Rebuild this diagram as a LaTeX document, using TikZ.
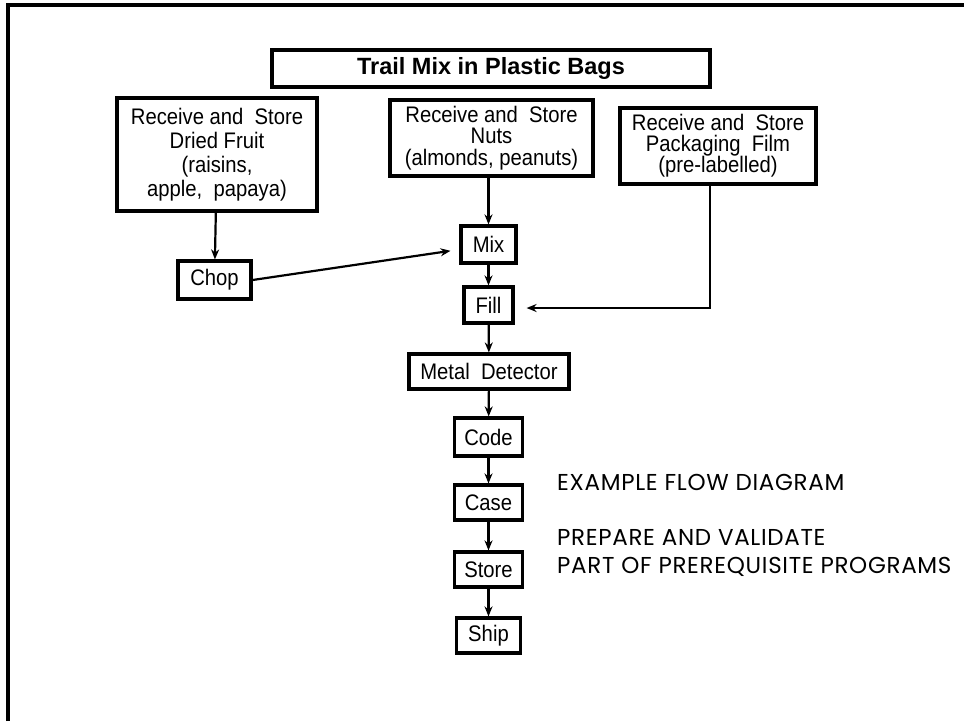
\documentclass[tikz,border=0pt]{standalone}
\usepackage{fontspec}
\setmainfont{Liberation Sans}
\newfontfamily\boxfont[FakeStretch=0.9]{Liberation Sans}
\newfontfamily\notefont[LetterSpace=3]{Poppins}
\usepackage{tikz}
\usetikzlibrary{arrows.meta}

\begin{document}
\begin{tikzpicture}[x=1pt,y=-1pt]
        \tikzstyle{every node} = [rectangle]
        \tikzstyle{box} = [draw, line width=3.2pt, inner sep=0pt, align=center, font=\boxfont\fontsize{22.5}{24}\selectfont]
        \tikzstyle{flow} = [-{Stealth[length=10pt,width=8pt]}, line width=2.2pt]
        \tikzstyle{note} = [anchor=base west, inner sep=0pt, font=\notefont\fontsize{23}{28}\selectfont]
        \useasboundingbox (0,0) rectangle (964,721);
        \draw[line width=3.5pt] (8,721) -- (8,5) -- (964,5);

        \node[box, minimum width=438pt, minimum height=37pt, font=\fontsize{23.5}{26}\bfseries] (title) at (491,68.5) {Trail Mix in Plastic Bags};
        \node[box, minimum width=200pt, minimum height=113pt] (fruit) at (217,154.5) {Receive and\ \ Store\\Dried Fruit\\(raisins,\\apple,\ \ papaya)};
        \node[box, minimum width=203pt, minimum height=76pt, font=\boxfont\fontsize{22.5}{21.5}\selectfont] (nuts) at (491.5,138) {Receive and\ \ Store\\Nuts\\(almonds, peanuts)};
        \node[box, minimum width=196pt, minimum height=76pt, font=\boxfont\fontsize{22.5}{21}\selectfont] (film) at (718,146) {Receive and\ \ Store\\Packaging\ \ Film\\(pre-labelled)};
        \node[box, minimum width=73pt, minimum height=38pt] (chop) at (214.5,280) {Chop};
        \node[box, minimum width=55pt, minimum height=37pt] (mix) at (488.5,244.5) {Mix};
        \node[box, minimum width=49pt, minimum height=36pt] (fill) at (488.5,305) {Fill};
        \node[box, minimum width=160pt, minimum height=35pt] (metal) at (489,371.5) {Metal\ \ Detector};
        \node[box, minimum width=68pt, minimum height=38pt] (code) at (488.5,437) {Code};
        \node[box, minimum width=68pt, minimum height=35pt] (case) at (488.5,502.5) {Case};
        \node[box, minimum width=68pt, minimum height=35pt] (store) at (488.5,569.5) {Store};
        \node[box, minimum width=64pt, minimum height=35pt] (ship) at (488.5,635.5) {Ship};

        \node[note] (ex) at (557,490) {EXAMPLE FLOW DIAGRAM};
        \node[note] (prep) at (557,545) {PREPARE AND VALIDATE};
        \node[note] (part) at (557,573) {PART OF PREREQUISITE PROGRAMS};

        \draw[flow] (fruit) -- (chop);
        \draw[flow] (nuts.south -| mix) -- (mix);
        \draw[flow, shorten >=9pt] (chop.east) -- ([yshift=-5pt]mix.west);
        \draw[flow, shorten >=12pt] ([xshift=-8pt]film.south) |- ([yshift=-3pt]fill.east);
        \draw[flow] (mix) -- (fill);
        \draw[flow] (fill) -- (metal);
        \draw[flow] (metal) -- (code);
        \draw[flow] (code) -- (case);
        \draw[flow] (case) -- (store);
        \draw[flow] (store) -- (ship);
\end{tikzpicture}
\end{document}
